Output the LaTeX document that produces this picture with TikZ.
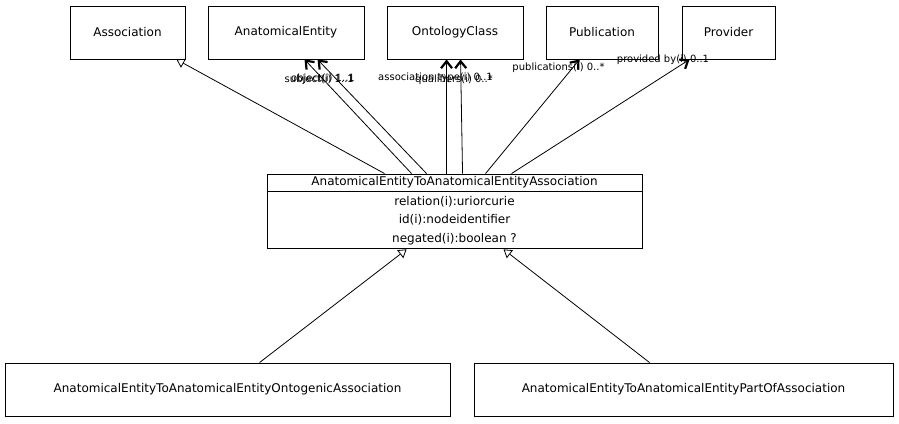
\documentclass[tikz,border=0pt]{standalone}
\usepackage{fontspec}
\setmainfont{DejaVu Sans}
\usetikzlibrary{arrows.meta}
\begin{document}
\begin{tikzpicture}[x=1pt,y=-1pt,
  cls/.style={draw, line width=0.9pt, inner sep=0pt, font=\fontsize{12}{14}\selectfont},
  lbl/.style={inner sep=0pt, font=\fontsize{10}{12}\selectfont},
  isa/.style={draw, line width=0.8pt, -{Triangle[open,length=8pt,width=10pt,line width=0.8pt]}},
  ref/.style={draw, line width=0.8pt, -{Straight Barb[length=7pt,width=11pt,line width=2.2pt]}}
]
\useasboundingbox (0,0) rectangle (899,423);
% top classes
\node[cls, minimum width=115pt, minimum height=53pt] (assoc) at (127.5,32.5) {Association};
\node[cls, minimum width=156pt, minimum height=53pt] (ae) at (286,32.5) {AnatomicalEntity};
\node[cls, minimum width=136pt, minimum height=53pt] (oc) at (455,32.5) {OntologyClass};
\node[cls, minimum width=112pt, minimum height=53pt] (pub) at (602,32.5) {Publication};
\node[cls, minimum width=93pt, minimum height=53pt] (prov) at (728.5,32.5) {Provider};
% main class
\node[cls, minimum width=375pt, minimum height=17pt] (mh) at (454.5,182.5) {AnatomicalEntityToAnatomicalEntityAssociation};
\node[cls, minimum width=375pt, minimum height=57pt, anchor=north, align=center,
      font=\fontsize{12}{18.5}\selectfont] (mb) at (mh.south)
      {relation(i):uriorcurie\\id(i):nodeidentifier\\negated(i):boolean ?};
% bottom classes
\node[cls, minimum width=445pt, minimum height=53pt] (onto) at (227.5,389.5) {AnatomicalEntityToAnatomicalEntityOntogenicAssociation};
\node[cls, minimum width=419pt, minimum height=53pt] (partof) at (683.5,389.5) {AnatomicalEntityToAnatomicalEntityPartOfAssociation};
% edges to top
\draw[isa] ([xshift=118pt]mh.north west) -- ([xshift=-9pt]assoc.south east);
\draw[ref] ([xshift=145pt]mh.north west) -- ([xshift=97pt]ae.south west);
\draw[ref] ([xshift=160pt]mh.north west) -- ([xshift=110pt]ae.south west);
\draw[ref] ([xshift=180pt]mh.north west) -- ([xshift=60pt]oc.south west);
\draw[ref] ([xshift=196pt]mh.north west) -- ([xshift=74pt]oc.south west);
\draw[ref] ([xshift=219pt]mh.north west) -- ([xshift=34pt]pub.south west);
\draw[ref] ([xshift=245pt]mh.north west) -- ([xshift=8pt]prov.south west);
% labels
\node[lbl, anchor=east] (lsub) at (354,80) {subject(i) 1..1};
\node[lbl, anchor=east] (lobj) at (355,78.5) {object(i) 1..1};
\node[lbl, anchor=east] (latype) at (493,78) {association type(i) 0..1};
\node[lbl, anchor=east] (lqual) at (493,79.5) {qualifiers(i) 0..*};
\node[lbl] (lpub) at (558.5,68) {publications(i) 0..*};
\node[lbl] (lprov) at (663,59.5) {provided by(i) 0..1};
% subclasses
\draw[isa] ([xshift=255pt]onto.north west) -- ([xshift=140pt]mb.south west);
\draw[isa] ([xshift=176pt]partof.north west) -- ([xshift=237pt]mb.south west);
\end{tikzpicture}
\end{document}
